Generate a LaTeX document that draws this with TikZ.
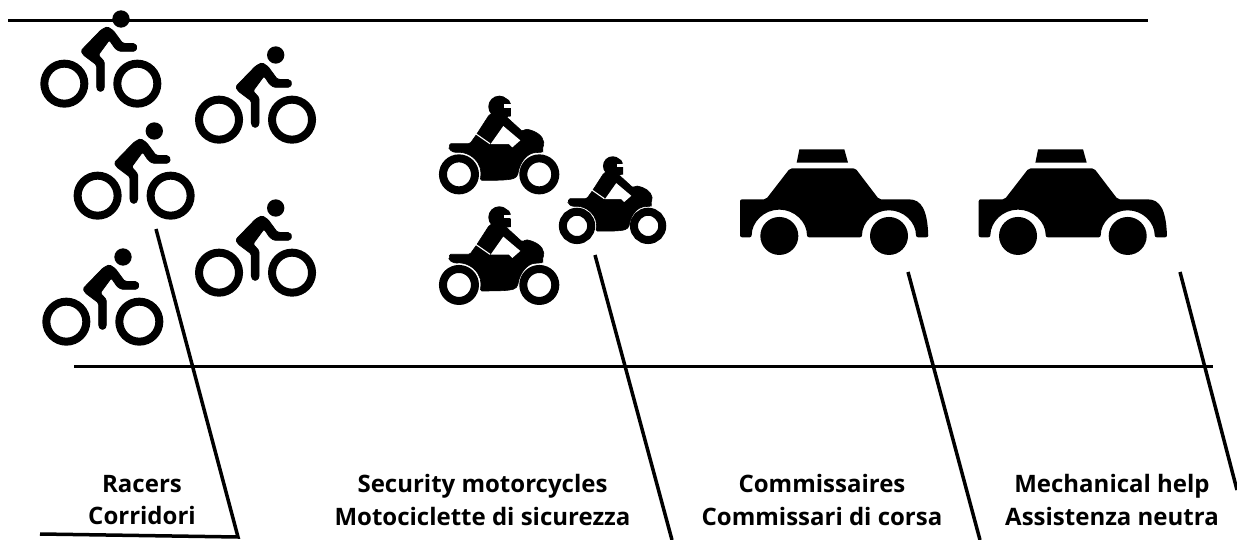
\documentclass[tikz,border=0pt]{standalone}
\usepackage{fontspec}
\setmainfont{Open Sans}

\tikzset{
 rule/.style={black, line width=3pt},
 slant/.style={black, line width=3.5pt},
 caption/.style={align=center, font=\fontsize{24}{32.5}\selectfont\bfseries},
 pics/racer/.style={code={
  \begin{scope}[scale=1/3, shift={(-303,-57)}]
   \fill (303,57) circle (26);
   \filldraw[line width=.8pt, rounded corners=1.5pt] (183,152) -- (243,90) -- (262,80) -- (280,92) -- (308,130) -- (345,131) -- (352,142) -- (345,154) -- (298,154) -- (285,145) -- (268,120) -- (235,165) -- (253,185) -- (253,265) -- (247,274) -- (236,274) -- (230,265) -- (230,195) -- (190,165) -- cycle;
   \draw[line width=8pt] (133,251) circle (60);
   \draw[line width=8pt] (352,251) circle (60);
  \end{scope}
 }},
 pics/moto/.style={code={
  \begin{scope}[scale=1/3, shift={(-193,-44)}]
   \fill (193,44) circle (33);
   \fill (200,13) -- (222,24) -- (228,36) -- (205,36) -- cycle;
   \fill (208,48) -- (228,48) -- (228,73) -- (212,75) -- cycle;
   \fill[white] (208,37) rectangle (232,47);
   \filldraw[line width=.6pt, rounded corners=1.5pt] (43,155) -- (105,155) -- (125,127) -- (163,68) .. controls (185,58) and (205,62) .. (216,76) -- (262,118) -- (272,111) .. controls (300,116) and (324,130) .. (327,155) -- (322,172) -- (325,180) -- (300,182) .. controls (280,185) and (255,205) .. (248,250) -- (240,258) .. controls (220,265) and (180,265) .. (136,265) -- (138,247) arc[start angle=0, end angle=-100, radius=66] -- (48,176) -- (43,170) -- cycle;
   \draw[white, line width=1.1pt] (122,125) -- (165,155);
   \fill[white] (205,102) -- (256,145) -- (232,166) -- (222,156) -- (167,156) -- cycle;
   \draw[line width=8pt] (72,247) circle (48);
   \draw[line width=8pt] (313,247) circle (48);
  \end{scope}
 }},
 pics/car/.style={code={
  \begin{scope}[scale=1/3, shift={(-30,-58)}]
   \fill (208,58) -- (343,58) -- (354,98) -- (200,98) -- cycle;
   \fill[rounded corners=2pt] (30,208) -- (108,208) -- (180,115) -- (376,115) -- (447,208) -- (530,208) .. controls (575,208) and (592,240) .. (595,322) -- (558,322) arc[start angle=0, end angle=-180, radius=81] -- (231,322) arc[start angle=0, end angle=-180, radius=83] -- (30,322) -- cycle;
   \fill (148,318) circle (57);
   \fill (477,318) circle (57);
  \end{scope}
 }}
}

\begin{document}
\begin{tikzpicture}[x=1pt, y=-1pt]
 \useasboundingbox (0,0) rectangle (1237,540);

 \coordinate (topL) at (8,21);
 \coordinate (topR) at (1148,21);
 \coordinate (midL) at (74,366);
 \coordinate (midR) at (1213,366);
 \coordinate (baseL) at (40,534);
 \coordinate (racerT) at (156,229);
 \coordinate (racerB) at (238,537);
 \coordinate (motoT) at (595,255);
 \coordinate (motoB) at (672,540);
 \coordinate (carAT) at (908,272);
 \coordinate (carAB) at (980,540);
 \coordinate (carBT) at (1180,272);
 \coordinate (carBB) at (1237,490);

 \draw[rule] (topL) -- (topR);
 \draw[rule] (midL) -- (midR);
 \draw[slant] (baseL) -- (racerB) -- (racerT);
 \draw[slant] (motoT) -- (motoB);
 \draw[slant] (carAT) -- (carAB);
 \draw[slant] (carBT) -- (carBB);

 \pic (racerOne) at (121,19) {racer};
 \pic (racerTwo) at (275.7,55) {racer};
 \pic (racerThree) at (154.3,131) {racer};
 \pic (racerFour) at (275.7,208) {racer};
 \pic (racerFive) at (123,257) {racer};

 \pic (motoOne) at (499.3,106.7) {moto};
 \pic (motoTwo) at (499.3,217.3) {moto};
 \pic[scale=0.885] (motoThree) at (612.7,166) {moto};

 \pic (carOne) at (740,149.3) {car};
 \pic (carTwo) at (978.7,149.3) {car};

 \node[caption] (racers) at (142,500) {Racers\\Corridori};
 \node[caption] (security) at (482.5,500) {Security motorcycles\\Motociclette di sicurezza};
 \node[caption] (commissaires) at (822,500) {Commissaires\\Commissari di corsa};
 \node[caption] (mechanics) at (1112,500) {Mechanical help\\Assistenza neutra};
\end{tikzpicture}
\end{document}
